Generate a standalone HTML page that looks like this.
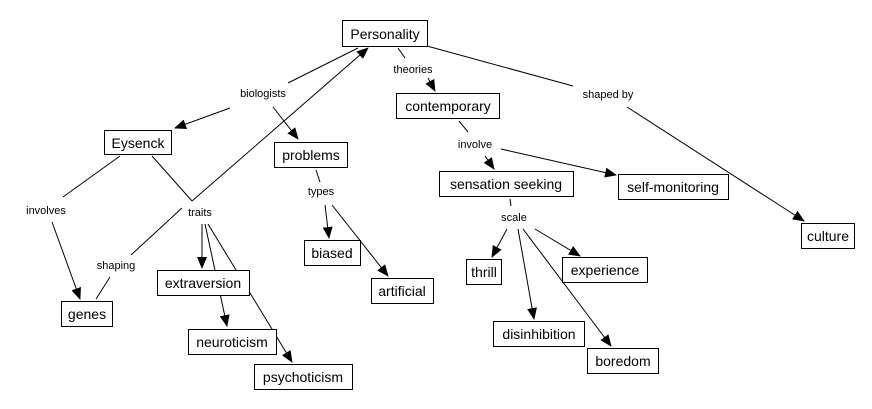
<!DOCTYPE html>
<html><head><style>
body{margin:0;background:#fff;}
svg{display:block;}
.n{font:14px "Liberation Sans",sans-serif;fill:#000;}
.l{font:11px "Liberation Sans",sans-serif;fill:#000;}
rect{fill:#fff;stroke:#000;stroke-width:1;}
line{stroke:#000;stroke-width:1;}
</style></head><body>
<svg width="872" height="409" viewBox="0 0 872 409">
<defs><marker id="a" markerWidth="12" markerHeight="10" refX="11" refY="5" orient="auto" markerUnits="userSpaceOnUse"><path d="M0,0 L12,5 L0,10 z" fill="#000"/></marker></defs>
<g>
<line x1="288" y1="83" x2="358" y2="48"/>
<line x1="230" y1="108" x2="175" y2="128" marker-end="url(#a)"/>
<line x1="273" y1="107" x2="298" y2="139" marker-end="url(#a)"/>
<line x1="120" y1="156" x2="63" y2="197"/>
<line x1="52" y1="222" x2="80" y2="299" marker-end="url(#a)"/>
<line x1="152" y1="156" x2="192" y2="201"/>
<line x1="192" y1="201" x2="368" y2="48" marker-end="url(#a)"/>
<line x1="182" y1="208" x2="131" y2="255"/>
<line x1="110" y1="277" x2="96" y2="299"/>
<line x1="202" y1="224" x2="202" y2="268" marker-end="url(#a)"/>
<line x1="205" y1="224" x2="227" y2="326" marker-end="url(#a)"/>
<line x1="208" y1="224" x2="292" y2="362" marker-end="url(#a)"/>
<line x1="316" y1="170" x2="320" y2="182"/>
<line x1="325" y1="205" x2="329" y2="238" marker-end="url(#a)"/>
<line x1="332" y1="205" x2="388" y2="276" marker-end="url(#a)"/>
<line x1="398" y1="48" x2="405" y2="58"/>
<line x1="428" y1="78" x2="435" y2="91" marker-end="url(#a)"/>
<line x1="427" y1="46" x2="573" y2="86"/>
<line x1="627" y1="107" x2="804" y2="221" marker-end="url(#a)"/>
<line x1="459" y1="121" x2="468" y2="132"/>
<line x1="485" y1="156" x2="494" y2="169" marker-end="url(#a)"/>
<line x1="501" y1="149" x2="616" y2="175" marker-end="url(#a)"/>
<line x1="510" y1="199" x2="511" y2="206"/>
<line x1="507" y1="229" x2="492" y2="257" marker-end="url(#a)"/>
<line x1="518" y1="229" x2="534" y2="319" marker-end="url(#a)"/>
<line x1="523" y1="229" x2="611" y2="346" marker-end="url(#a)"/>
<line x1="535" y1="229" x2="580" y2="256" marker-end="url(#a)"/>
</g>
<g>
<rect x="342.5" y="20.5" width="85" height="26"/><text class="n" x="385" y="39" text-anchor="middle">Personality</text>
<rect x="104.5" y="130.5" width="67" height="24"/><text class="n" x="138" y="148" text-anchor="middle">Eysenck</text>
<rect x="274.5" y="142.5" width="73" height="25"/><text class="n" x="311" y="160" text-anchor="middle">problems</text>
<rect x="304.5" y="240.5" width="56" height="25"/><text class="n" x="332" y="258" text-anchor="middle">biased</text>
<rect x="371.5" y="278.5" width="62" height="25"/><text class="n" x="402" y="296" text-anchor="middle">artificial</text>
<rect x="61.5" y="301.5" width="51" height="25"/><text class="n" x="87" y="319" text-anchor="middle">genes</text>
<rect x="157.5" y="270.5" width="92" height="25"/><text class="n" x="203" y="288" text-anchor="middle">extraversion</text>
<rect x="188.5" y="329.5" width="88" height="25"/><text class="n" x="232" y="347" text-anchor="middle">neuroticism</text>
<rect x="254.5" y="364.5" width="98" height="25"/><text class="n" x="303" y="382" text-anchor="middle">psychoticism</text>
<rect x="396.5" y="93.5" width="103" height="25"/><text class="n" x="448" y="111" text-anchor="middle">contemporary</text>
<rect x="439.5" y="171.5" width="134" height="25"/><text class="n" x="506" y="189" text-anchor="middle">sensation seeking</text>
<rect x="618.5" y="174.5" width="110" height="25"/><text class="n" x="673" y="192" text-anchor="middle">self-monitoring</text>
<rect x="801.5" y="223.5" width="53" height="25"/><text class="n" x="828" y="241" text-anchor="middle">culture</text>
<rect x="466.5" y="259.5" width="35" height="25"/><text class="n" x="484" y="277" text-anchor="middle">thrill</text>
<rect x="562.5" y="257.5" width="85" height="25"/><text class="n" x="605" y="275" text-anchor="middle">experience</text>
<rect x="493.5" y="321.5" width="91" height="25"/><text class="n" x="539" y="339" text-anchor="middle">disinhibition</text>
<rect x="587.5" y="348.5" width="71" height="25"/><text class="n" x="623" y="366" text-anchor="middle">boredom</text>
</g>
<g>
<text class="l" x="263" y="97" text-anchor="middle">biologists</text>
<text class="l" x="413" y="73" text-anchor="middle">theories</text>
<text class="l" x="608" y="98" text-anchor="middle">shaped by</text>
<text class="l" x="475" y="148" text-anchor="middle">involve</text>
<text class="l" x="321" y="195" text-anchor="middle">types</text>
<text class="l" x="200" y="216" text-anchor="middle">traits</text>
<text class="l" x="46" y="214" text-anchor="middle">involves</text>
<text class="l" x="116" y="269" text-anchor="middle">shaping</text>
<text class="l" x="514" y="221" text-anchor="middle">scale</text>
</g>
</svg>
</body></html>
